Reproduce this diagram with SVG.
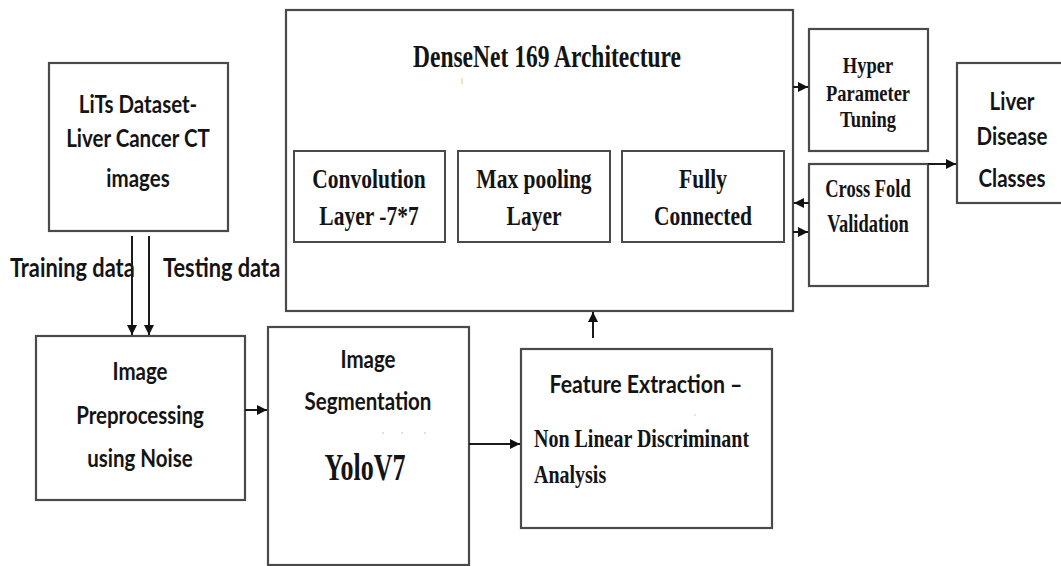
<svg xmlns="http://www.w3.org/2000/svg" width="1061" height="566" viewBox="0 0 1061 566">
<defs>
<style>
.box{fill:#fff;stroke:#4a4a4a;stroke-width:2.2}
.sub{fill:#fff;stroke:#4a4a4a;stroke-width:2}
.cn{stroke:#1a1a1a;stroke-width:2;fill:none}
.sans{font-family:Lato,'Liberation Sans',sans-serif;font-weight:bold;fill:#141414;text-anchor:middle}
.serif{font-family:'Liberation Serif',serif;font-weight:bold;fill:#141414;text-anchor:middle}
.l{text-anchor:start}
</style>
<marker id="ah" viewBox="0 0 10 10" refX="10" refY="5" markerWidth="11" markerHeight="10" markerUnits="userSpaceOnUse" orient="auto">
<path d="M0,0 L10,5 L0,10 z" fill="#111"/>
</marker>
</defs>
<rect width="1061" height="566" fill="#fff"/>

<g id="lits">
<rect class="box" x="49" y="63" width="179" height="168"/>
<text class="sans" font-size="20.5" transform="translate(138,113) scale(1,1.2)">LiTs Dataset-</text>
<text class="sans" font-size="20.5" transform="translate(138,147) scale(1,1.2)">Liver Cancer CT</text>
<text class="sans" font-size="20.5" transform="translate(138,187) scale(1,1.2)">images</text>
</g>

<g id="labels">
<text class="sans l" font-size="21.8" transform="translate(10,277) scale(1,1.2)">Training data</text>
<text class="sans l" font-size="21.8" transform="translate(163,277) scale(1,1.2)">Testing data</text>
</g>

<g id="densenet">
<rect class="box" x="286" y="10" width="507" height="301"/>
<text class="serif" font-size="23.5" transform="translate(547,67) scale(1,1.3)">DenseNet 169 Architecture</text>
<line x1="462" y1="78" x2="462" y2="84" stroke="#f0c080" stroke-width="1"/>
</g>

<g id="conv">
<rect class="sub" x="294" y="151" width="151" height="91"/>
<text class="serif" font-size="21.5" transform="translate(369,188) scale(1,1.28)">Convolution</text>
<text class="serif" font-size="21.5" transform="translate(369,225) scale(1,1.28)">Layer -7*7</text>
</g>

<g id="maxpool">
<rect class="sub" x="458" y="151" width="152" height="91"/>
<text class="serif" font-size="21.5" transform="translate(534,188) scale(1,1.28)">Max pooling</text>
<text class="serif" font-size="21.5" transform="translate(534,225) scale(1,1.28)">Layer</text>
</g>

<g id="fc">
<rect class="sub" x="622" y="151" width="162" height="91"/>
<text class="serif" font-size="21.5" transform="translate(703,188) scale(1,1.28)">Fully</text>
<text class="serif" font-size="21.5" transform="translate(703,225) scale(1,1.28)">Connected</text>
</g>

<g id="hyper">
<rect class="box" x="809" y="29" width="119" height="122"/>
<text class="serif" font-size="18.5" transform="translate(868,73) scale(1,1.3)">Hyper</text>
<text class="serif" font-size="18.5" transform="translate(868,101) scale(1,1.3)">Parameter</text>
<text class="serif" font-size="18.5" transform="translate(868,127) scale(1,1.3)">Tuning</text>
</g>

<g id="crossfold">
<rect class="box" x="809" y="164" width="119" height="122"/>
<text class="serif" font-size="18.5" transform="translate(868,197) scale(1,1.35)">Cross Fold</text>
<text class="serif" font-size="18.5" transform="translate(868,232) scale(1,1.35)">Validation</text>
</g>

<g id="liver">
<rect class="box" x="957" y="63" width="110" height="140"/>
<text class="sans" font-size="20.5" transform="translate(1012,110) scale(1,1.2)">Liver</text>
<text class="sans" font-size="20.5" transform="translate(1012,145) scale(1,1.2)">Disease</text>
<text class="sans" font-size="20.5" transform="translate(1012,187) scale(1,1.2)">Classes</text>
</g>

<g id="preproc">
<rect class="box" x="36" y="336" width="209" height="164"/>
<text class="sans" font-size="20.5" transform="translate(140,380) scale(1,1.2)">Image</text>
<text class="sans" font-size="20.5" transform="translate(140,424) scale(1,1.2)">Preprocessing</text>
<text class="sans" font-size="20.5" transform="translate(140,467) scale(1,1.2)">using Noise</text>
</g>

<g id="segment">
<rect class="box" x="268" y="327" width="201" height="238"/>
<text class="sans" font-size="20.5" transform="translate(368,368) scale(1,1.2)">Image</text>
<text class="sans" font-size="20.5" transform="translate(368,410) scale(1,1.2)">Segmentation</text>
<circle cx="383" cy="433" r="0.8" fill="#bbb"/>
<circle cx="402" cy="433" r="0.8" fill="#bbb"/>
<circle cx="425" cy="433" r="0.8" fill="#bbb"/>
<text class="serif" font-size="26" transform="translate(365,480) scale(1,1.42)">YoloV7</text>
</g>

<g id="feature">
<rect class="box" x="521" y="349" width="251" height="179"/>
<text class="sans" font-size="21.3" transform="translate(646,393) scale(1,1.18)">Feature Extraction –</text>
<circle cx="695" cy="415" r="0.7" fill="#bbb"/>
<text class="serif l" font-size="20" transform="translate(534,447) scale(1,1.26)">Non Linear Discriminant</text>
<text class="serif l" font-size="20" transform="translate(534,483) scale(1,1.26)">Analysis</text>
</g>

<g id="connectors">
<line class="cn" x1="132" y1="236" x2="132" y2="335" marker-end="url(#ah)"/>
<line class="cn" x1="149" y1="236" x2="149" y2="335" marker-end="url(#ah)"/>
<line class="cn" x1="245" y1="410" x2="267" y2="410" marker-end="url(#ah)"/>
<line class="cn" x1="469" y1="444" x2="520" y2="444" marker-end="url(#ah)"/>
<line class="cn" x1="593" y1="338" x2="593" y2="312" marker-end="url(#ah)"/>
<line class="cn" x1="793" y1="87" x2="808" y2="87" marker-end="url(#ah)"/>
<line class="cn" x1="809" y1="203" x2="794" y2="203" marker-end="url(#ah)"/>
<line class="cn" x1="793" y1="232" x2="808" y2="232" marker-end="url(#ah)"/>
<line class="cn" x1="928" y1="164" x2="956" y2="164" marker-end="url(#ah)"/>
</g>
</svg>
